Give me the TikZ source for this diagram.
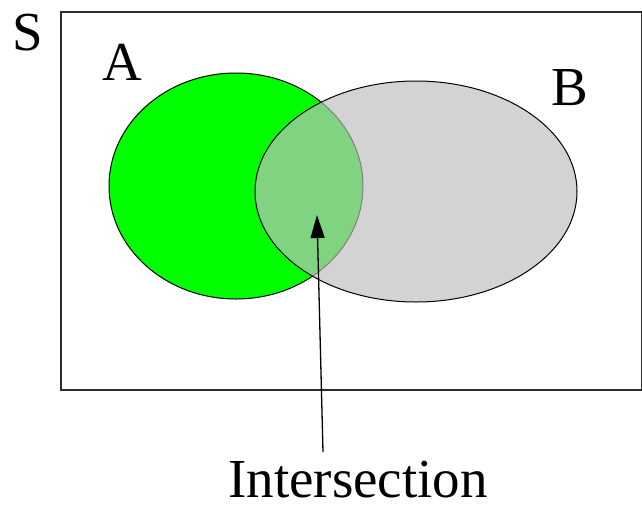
\documentclass[tikz,border=0pt]{standalone}
\usepackage{fontspec}
\setmainfont{Liberation Serif}
\usetikzlibrary{shapes.geometric,arrows.meta}
\definecolor{setA}{RGB}{0,255,0}
\definecolor{setB}{RGB}{190,190,190}
\definecolor{frame}{RGB}{45,45,45}
\tikzset{
  lbl/.style={font=\fontsize{55}{60}\selectfont, anchor=base, inner sep=0},
  setshape/.style={ellipse, draw=black, line width=1pt, inner sep=0},
}
\begin{document}
\begin{tikzpicture}[x=1pt,y=-1pt]
\useasboundingbox (0,0) rectangle (642,504);
\node[draw=frame, line width=2pt, minimum width=581, minimum height=378, inner sep=0, anchor=north west] (S) at (59.5,10.5) {};
\node[setshape, fill=setA, minimum width=254, minimum height=226] (A) at (236,186) {};
\node[setshape, fill=setB, fill opacity=0.675, minimum width=322, minimum height=221] (B) at (416,191.5) {};
\node[lbl] (Slbl) at (28,50) {S};
\node[lbl] (Albl) at (122,80) {A};
\node[lbl] (Blbl) at (570,105) {B};
\node[lbl, text depth=0pt] (I) at (358,497.5) {Intersection};
\coordinate (tail) at (323,452);
\coordinate (tip) at (317,215);
\draw[line width=1.3pt, -{Triangle[length=23pt,width=14pt]}] (tail) -- (tip);
\end{tikzpicture}
\end{document}
